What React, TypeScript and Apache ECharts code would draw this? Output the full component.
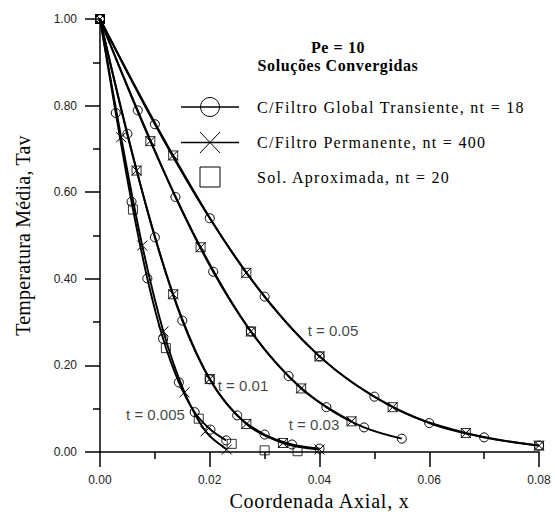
import React, { useEffect, useRef } from "react";
import * as echarts from "echarts";

// ---- t = 0.005 ----
const t005CircX = [0, 0.002875, 0.00575, 0.008625, 0.0115, 0.014375, 0.01725, 0.020125, 0.023];
const t005CircY = [1, 0.783, 0.578, 0.401, 0.2616, 0.161, 0.0922, 0.052, 0.027];
const t005CrossX = [0, 0.00385, 0.0077, 0.01155, 0.0154, 0.01925, 0.0231];
const t005CrossY = [1, 0.727, 0.477, 0.2785, 0.138, 0.048, 0.006];
const t005SqX = [0, 0.006, 0.012, 0.018, 0.024, 0.03, 0.036];
const t005SqY = [1, 0.56, 0.24, 0.0771, 0.019, 0.004, 0.002];

// ---- t = 0.01 ----
const t01CircX = [0, 0.005, 0.01, 0.015, 0.02, 0.025, 0.03, 0.035, 0.04];
const t01CircY = [1, 0.735, 0.496, 0.3036, 0.168, 0.0847, 0.0405, 0.0176, 0.008];
const t01CrossX = [0, 0.006667, 0.013333, 0.02, 0.026667, 0.033333, 0.04];
const t01CrossY = [1, 0.65, 0.3645, 0.1686, 0.0648, 0.021, 0.006];
const t01SqX = [0, 0.006667, 0.013333, 0.02, 0.026667, 0.033333];
const t01SqY = [1, 0.65, 0.3645, 0.1686, 0.0648, 0.021];

// ---- t = 0.03 ----
const t03CircX = [0, 0.006875, 0.01375, 0.020625, 0.0275, 0.034375, 0.04125, 0.048125, 0.055];
const t03CircY = [1, 0.789, 0.589, 0.4165, 0.2785, 0.1755, 0.1037, 0.057, 0.031];
const t03CrossX = [0, 0.009167, 0.018333, 0.0275, 0.036667, 0.045833];
const t03CrossY = [1, 0.718, 0.473, 0.2785, 0.147, 0.071];
const t03SqX = [0, 0.009167, 0.018333, 0.0275, 0.036667, 0.045833];
const t03SqY = [1, 0.718, 0.473, 0.2785, 0.147, 0.071];

// ---- t = 0.05 ----
const t05CircX = [0, 0.01, 0.02, 0.03, 0.04, 0.05, 0.06, 0.07, 0.08];
const t05CircY = [1, 0.757, 0.54, 0.359, 0.221, 0.128, 0.067, 0.034, 0.015];
const t05CrossX = [0, 0.013333, 0.026667, 0.04, 0.053333, 0.066667, 0.08];
const t05CrossY = [1, 0.685, 0.414, 0.221, 0.1037, 0.044, 0.015];
const t05SqX = [0, 0.013333, 0.026667, 0.04, 0.053333, 0.066667, 0.08];
const t05SqY = [1, 0.685, 0.414, 0.221, 0.1037, 0.044, 0.015];

// curve annotations (data coordinates)
const curveLabels = ["t = 0.005", "t = 0.01", "t = 0.03", "t = 0.05"];
const curveLabelX = [0.01011, 0.02606, 0.039, 0.04246];
const curveLabelY = [0.087, 0.1545, 0.064, 0.2815];

const legendTexts = [
  "C/Filtro Global Transiente, nt = 18",
  "C/Filtro Permanente, nt = 400",
  "Sol. Aproximada, nt = 20",
];
const titleLines = ["Pe = 10", "Soluções Convergidas"];
const xName = "Coordenada Axial, x";
const yName = "Temperatura Média, Tav";
const xTicks = [0, 0.02, 0.04, 0.06, 0.08];
const yTicks = [0, 0.2, 0.4, 0.6, 0.8, 1.0];

const SERIF = "'Liberation Serif', 'Times New Roman', serif";
const SANS = "'Liberation Sans', Arial, sans-serif";
const CROSS = "path://M0 0L10 10M10 0L0 10";

const zip = (xs: number[], ys: number[]) => xs.map((x, i) => [x, ys[i]]);

const circleLine = (xs: number[], ys: number[]) => ({
  type: "line",
  data: zip(xs, ys),
  smooth: 0.35,
  symbol: "circle",
  symbolSize: 9,
  showAllSymbol: true,
  itemStyle: { color: "none", borderColor: "#000", borderWidth: 1 },
  lineStyle: { color: "#000", width: 1.9 },
  z: 3,
});
const crossLine = (xs: number[], ys: number[]) => ({
  type: "line",
  data: zip(xs, ys),
  smooth: 0.35,
  symbol: CROSS,
  symbolSize: 10,
  showAllSymbol: true,
  itemStyle: { color: "none", borderColor: "#000", borderWidth: 1 },
  lineStyle: { color: "#000", width: 1.9 },
  z: 3,
});
const squares = (xs: number[], ys: number[]) => ({
  type: "scatter",
  data: zip(xs, ys),
  symbol: "rect",
  symbolSize: 9,
  itemStyle: { color: "none", borderColor: "#000", borderWidth: 1 },
  z: 4,
});

// tracking (letter spacing) of the serif texts, as in the original plot
const tracking: Record<string, string> = {
  [legendTexts[0]]: "1.3px",
  [legendTexts[1]]: "1.3px",
  [legendTexts[2]]: "1.3px",
  [titleLines[0]]: "0.6px",
  [titleLines[1]]: "0.6px",
  [xName]: "0.8px",
  [yName]: "0.2px",
};

export default function App() {
  const ref = useRef<HTMLDivElement>(null);
  useEffect(() => {
    if (!ref.current) return;
    const el = ref.current;
    const chart = echarts.init(el, undefined, { renderer: "svg" });
    const axisCommon = {
      axisLine: { show: true, lineStyle: { color: "#000", width: 1.5 } },
      axisTick: { show: true, inside: false, length: 15, lineStyle: { color: "#000", width: 1.5 } },
      minorTick: { show: true, splitNumber: 2, length: 7, lineStyle: { color: "#000", width: 1.5 } },
      splitLine: { show: false },
      minorSplitLine: { show: false },
    };
    chart.setOption({
      animation: false,
      backgroundColor: "#fff",
      grid: { left: 100, right: 16, top: 19, bottom: 60, containLabel: false },
      xAxis: {
        type: "value",
        min: xTicks[0],
        max: xTicks[xTicks.length - 1],
        interval: 0.02,
        ...axisCommon,
        axisLabel: {
          margin: 22,
          fontSize: 12,
          fontFamily: SANS,
          color: "#222",
          formatter: (v: number) => v.toFixed(2),
        },
        name: xName,
        nameLocation: "middle",
        nameGap: 37,
        nameTextStyle: { fontFamily: SERIF, fontSize: 20, color: "#000" },
      },
      yAxis: {
        type: "value",
        min: yTicks[0],
        max: yTicks[yTicks.length - 1],
        interval: 0.2,
        ...axisCommon,
        axisLabel: {
          margin: 23,
          fontSize: 12,
          fontFamily: SANS,
          color: "#222",
          formatter: (v: number) => v.toFixed(2),
        },
        name: yName,
        nameLocation: "middle",
        nameGap: 67,
        nameTextStyle: { fontFamily: SERIF, fontSize: 20, color: "#000" },
      },
      series: [
        circleLine(t005CircX, t005CircY),
        crossLine(t005CrossX, t005CrossY),
        squares(t005SqX, t005SqY),
        circleLine(t01CircX, t01CircY),
        crossLine(t01CrossX, t01CrossY),
        squares(t01SqX, t01SqY),
        circleLine(t03CircX, t03CircY),
        crossLine(t03CrossX, t03CrossY),
        squares(t03SqX, t03SqY),
        circleLine(t05CircX, t05CircY),
        crossLine(t05CrossX, t05CrossY),
        squares(t05SqX, t05SqY),
        {
          type: "scatter",
          silent: true,
          symbolSize: 0,
          data: curveLabels.map((s, i) => [curveLabelX[i], curveLabelY[i], s]),
          label: {
            show: true,
            position: "inside",
            formatter: (p: any) => p.data[2],
            fontFamily: SANS,
            fontSize: 15,
            color: "#111",
          },
          z: 5,
        },
      ],
      graphic: [
        {
          type: "text",
          x: 338,
          y: 47,
          style: {
            text: titleLines[0],
            font: `bold 16px ${SERIF}`,
            fill: "#000",
            align: "center",
            verticalAlign: "middle",
          },
        },
        {
          type: "text",
          x: 338,
          y: 65,
          style: {
            text: titleLines[1],
            font: `bold 16px ${SERIF}`,
            fill: "#000",
            align: "center",
            verticalAlign: "middle",
          },
        },
        { type: "line", shape: { x1: 181, y1: 107, x2: 239, y2: 107 }, style: { stroke: "#000", lineWidth: 1.5 } },
        { type: "circle", shape: { cx: 210, cy: 107, r: 9.5 }, style: { stroke: "#000", fill: "none", lineWidth: 1 } },
        { type: "line", shape: { x1: 181, y1: 142.5, x2: 239, y2: 142.5 }, style: { stroke: "#000", lineWidth: 1.5 } },
        { type: "line", shape: { x1: 200, y1: 132, x2: 220, y2: 153 }, style: { stroke: "#000", lineWidth: 1 } },
        { type: "line", shape: { x1: 220, y1: 132, x2: 200, y2: 153 }, style: { stroke: "#000", lineWidth: 1 } },
        { type: "rect", shape: { x: 200, y: 167, width: 20, height: 20 }, style: { stroke: "#000", fill: "none", lineWidth: 1 } },
        ...legendTexts.map((t, i) => ({
          type: "text",
          x: 257,
          y: [107, 142.5, 177.5][i],
          style: {
            text: t,
            font: `16px ${SERIF}`,
            fill: "#000",
            align: "left",
            verticalAlign: "middle",
          },
        })),
      ],
    });
    const applyTracking = () => {
      el.querySelectorAll("text").forEach((t) => {
        const sp = tracking[t.textContent || ""];
        if (sp) t.setAttribute("letter-spacing", sp);
      });
    };
    applyTracking();
    chart.on("finished", applyTracking);
    const timer = setTimeout(applyTracking, 50);
    return () => {
      clearTimeout(timer);
      chart.dispose();
    };
  }, []);
  return (
    <div
      ref={ref}
      style={{ position: "absolute", left: 0, top: 0, width: 555, height: 516 }}
    />
  );
}
